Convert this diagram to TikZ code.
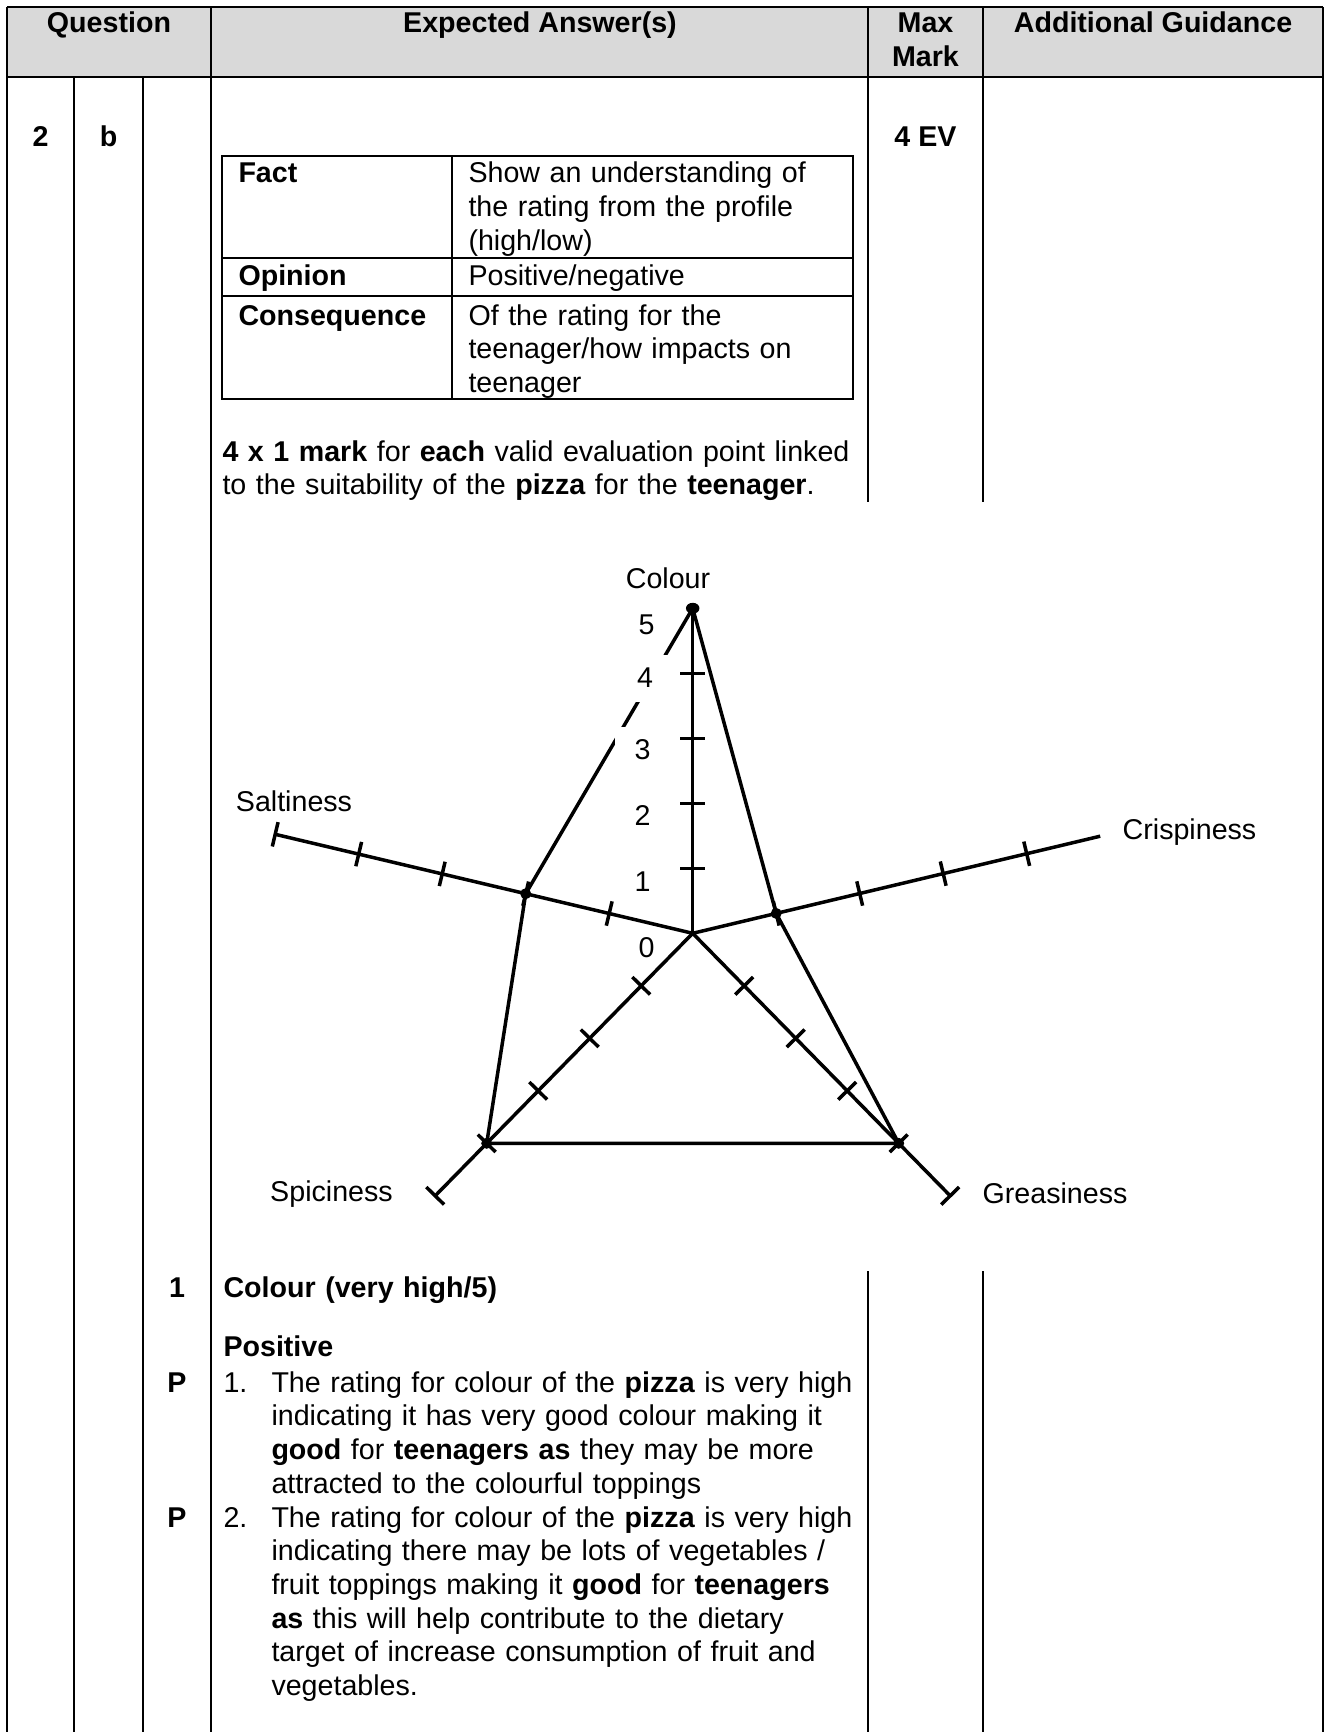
\documentclass[tikz,border=0pt]{standalone}
\usepackage{fontspec}
\setmainfont{Liberation Sans}
\usetikzlibrary{calc}

\newcommand{\bodyfont}{\fontsize{11.45pt}{13.47pt}\selectfont}
\definecolor{headgray}{HTML}{D9D9D9}

\tikzset{
	gridline/.style = {line width = 0.9pt},
	head/.style = {font = \bodyfont\bfseries, anchor = base},
	cell/.style = {font = \bodyfont, anchor = base west, inner sep = 0pt, text width = 300pt, align = left},
	cellb/.style = {cell, font = \bodyfont\bfseries},
	axis/.style = {line width = 1.4pt},
	axlabel/.style = {font = \bodyfont, anchor = base},
	num/.style = {font = \bodyfont, fill = white, inner sep = 0pt, minimum width = 22pt, minimum height = 18.8pt}
}

\begin{document}
\begin{tikzpicture}[x = 0.4pt, y = -0.4pt]

	\useasboundingbox (0, 0) rectangle (1326, 1732);

	% Header row

	\fill[headgray] (7, 7) rectangle (1323, 77);

	\node[head] (hquest) at (109, 33) {Question};
	\node[head] (hanswer) at (540, 33) {Expected Answer(s)};
	\node[head] (hmax) at (925.5, 33) {Max};
	\node[head] (hmark) at (925.5, 67) {Mark};
	\node[head] (hguide) at (1153, 33) {Additional Guidance};

	% Grid lines

	\begin{scope}[gridline]

		\draw (7, 7) -- (1323, 7);
		\draw (7, 77) -- (1323, 77);
		\draw (7, 7) -- (7, 1732);
		\draw (74, 77) -- (74, 1732);
		\draw (143, 77) -- (143, 1732);
		\draw (211, 7) -- (211, 1732);
		\draw (868, 7) -- (868, 502);
		\draw (868, 1271) -- (868, 1732);
		\draw (983, 7) -- (983, 502);
		\draw (983, 1271) -- (983, 1732);
		\draw (1323, 7) -- (1323, 1732);

	\end{scope}

	% Question number and mark

	\node[head] (qnum) at (40.5, 147) {2};
	\node[head] (qpart) at (108.5, 147) {b};
	\node[head] (marks) at (925.5, 147) {4 EV};

	% Fact / opinion / consequence table

	\begin{scope}[gridline]

		\draw (222, 156) rectangle (853, 399);
		\draw (452, 156) -- (452, 399);
		\draw (222, 258) -- (853, 258);
		\draw (222, 296) -- (853, 296);

	\end{scope}

	\node[cellb] (fact) at (238, 183) {Fact};
	\node[cell] (factd) at (468, 183) {Show an understanding of\\the rating from the profile\\(high/low)};
	\node[cellb] (opinion) at (238, 285) {Opinion};
	\node[cell] (opiniond) at (468, 285) {Positive/negative};
	\node[cellb] (conseq) at (238, 325) {Consequence};
	\node[cell] (conseqd) at (468, 325) {Of the rating for the\\teenager/how impacts on\\teenager};

	\node[cell] (note) at (222, 461) {\textbf{4 x 1 mark} for \textbf{each} valid evaluation point linked\\to the suitability of the \textbf{pizza} for the \textbf{teenager}.};

	% The radar chart

	\coordinate (ctr) at (692.7, 933.3);
	\coordinate (colE) at (692.7, 608.3);
	\coordinate (salE) at (275.2, 834.3);
	\coordinate (criE) at (1110.2, 833.8);
	\coordinate (spiE) at (435.2, 1195.8);
	\coordinate (greE) at (950.2, 1195.8);

	\begin{scope}[axis]

		\draw (ctr) -- (colE);
		\draw (ctr) -- (salE);
		\draw (ctr) -- ($(ctr)!0.976!(criE)$);
		\draw (ctr) -- (spiE);
		\draw (ctr) -- (greE);

		\foreach \e in {colE, salE, criE, spiE, greE}
			\foreach \i in {1, ..., 4}
				\draw ($(ctr)!\i/5!(\e)!5pt!90:(\e)$) -- ($(ctr)!\i/5!(\e)!5pt!-90:(\e)$);

		\foreach \e in {salE, spiE, greE}
			\draw ($(\e)!5pt!90:(ctr)$) -- ($(\e)!5pt!-90:(ctr)$);

	\end{scope}

	% Ratings

	\coordinate (colP) at (colE);
	\coordinate (criP) at ($(ctr)!1/5!(criE)$);
	\coordinate (greP) at ($(ctr)!4/5!(greE)$);
	\coordinate (spiP) at ($(ctr)!4/5!(spiE)$);
	\coordinate (salP) at ($(ctr)!2/5!(salE)$);

	\draw[axis] (colP) -- (criP) -- (greP) -- (spiP) -- (salP) -- cycle;

	\fill (colP) ellipse (2.7pt and 2.2pt);
	\fill (criP) circle (2.2pt);
	\fill (greP) circle (2.2pt);
	\fill (spiP) circle (2.2pt);
	\fill (salP) circle (2.2pt);

	% Scale numbers

	\node[num, fill = none] (n5) at (646.7, 625) {5};
	\node[num] (n4) at (645, 678) {4};
	\node[num] (n3) at (642.7, 750) {3};
	\node[num] (n2) at (642.7, 815) {2};
	\node[num] (n1) at (642.7, 882) {1};
	\node[num, fill = none] (n0) at (646.7, 948) {0};

	% Axis names

	\node[axlabel] (lcol) at (668, 588) {Colour};
	\node[axlabel] (lsal) at (294, 811) {Saltiness};
	\node[axlabel] (lcri) at (1189.5, 839) {Crispiness};
	\node[axlabel] (lspi) at (331.5, 1201) {Spiciness};
	\node[axlabel] (lgre) at (1055, 1203) {Greasiness};

	% Marking point 1

	\node[head] (pnum) at (177, 1297) {1};
	\node[cellb] (crit) at (223, 1297) {Colour (very high/5)};
	\node[cellb] (posit) at (223, 1356) {Positive};

	\node[head] (pa) at (177, 1392) {P};
	\node[cell] (na) at (223, 1392) {1.};
	\node[cell] (ans1) at (271, 1392) {The rating for colour of the \textbf{pizza} is very high\\indicating it has very good colour making it\\\textbf{good} for \textbf{teenagers as} they may be more\\attracted to the colourful toppings};

	\node[head] (pb) at (177, 1527) {P};
	\node[cell] (nb) at (223, 1527) {2.};
	\node[cell] (ans2) at (271, 1527) {The rating for colour of the \textbf{pizza} is very high\\indicating there may be lots of vegetables /\\fruit toppings making it \textbf{good} for \textbf{teenagers}\\\textbf{as} this will help contribute to the dietary\\target of increase consumption of fruit and\\vegetables.};

\end{tikzpicture}
\end{document}
